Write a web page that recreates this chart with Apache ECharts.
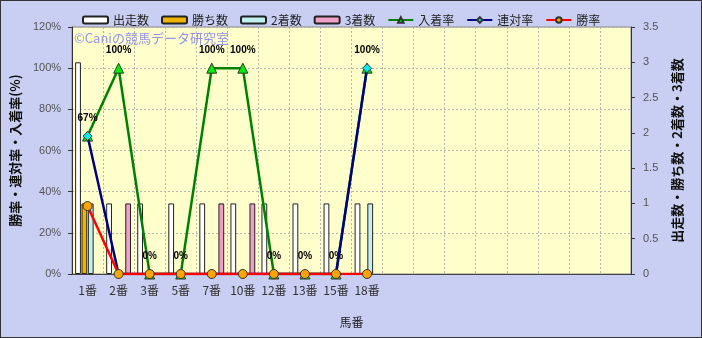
<!DOCTYPE html>
<html><head><meta charset="utf-8">
<script src="https://cdn.jsdelivr.net/npm/echarts@6/dist/echarts.min.js"></script>
<style>
html,body{margin:0;padding:0;}
#c{width:702px;height:338px;box-sizing:border-box;border:1px solid #333;background:#c9cff2;}
</style></head><body>
<div id="c"></div>
<script>
const categories = ['1番','2番','3番','5番','7番','10番','12番','13番','15番','18番','','','','','','','',''];
const runs    = [3,1,1,1,1,1,1,1,1,1];
const wins    = [1,0,0,0,0,0,0,0,0,0];
const seconds = [1,0,0,0,0,0,0,0,0,1];
const thirds  = [0,1,0,0,1,1,0,0,0,0];
const top3Rate = [67,100,0,0,100,100,0,0,0,100];
const top2Rate = [67,0,0,0,0,0,0,0,0,100];
const winRate  = [33,0,0,0,0,0,0,0,0,0];
const leftTicks = [0,20,40,60,80,100,120];
const rightTicks = [0,0.5,1,1.5,2,2.5,3,3.5];

const jp = '"Noto Sans CJK JP", sans-serif';
const nz = a => a.map(v => v === 0 ? null : v);
function bar(name, data, color){
  return {name, type:'bar', yAxisIndex:1, data:nz(data), barGap:'10%', barCategoryGap:'20%',
    itemStyle:{color, borderColor:'#222', borderWidth:1}};
}
function line(name, data, color, symbol, fill, z, label){
  return {name, type:'line', yAxisIndex:0, data, symbol, symbolSize:symbol==='triangle'?10:9, z,
    lineStyle:{color, width:2.5}, itemStyle:{color:fill, borderColor:'#333', borderWidth:1},
    label: label ? {show:true, position:'top', distance:7, formatter:'{c}%', fontSize:10, fontWeight:'bold', color:'#000', fontFamily:'"Liberation Sans", sans-serif'} : {show:false}};
}
const chart = echarts.init(document.getElementById('c'));
chart.setOption({
  animation:false,
  legend:{left:76, top:8, itemWidth:25, itemHeight:7, itemGap:12,
    textStyle:{fontFamily:jp, fontSize:12, color:'#222'},
    data:[
      {name:'出走数', icon:'roundRect'},{name:'勝ち数', icon:'roundRect'},{name:'2着数', icon:'roundRect'},{name:'3着数', icon:'roundRect'},
      '入着率','連対率','勝率']},
  grid:{left:68, right:70, top:26, bottom:63, show:true, backgroundColor:'#ffffcc', borderColor:'#888', borderWidth:1},
  graphic:[{type:'text', left:73, top:31, z:1, style:{text:'©Caniの競馬データ研究室', fill:'#9494ec', font:'13px "Noto Sans CJK JP"'}}],
  xAxis:{type:'category', data:categories, boundaryGap:true,
    name:'馬番', nameLocation:'middle', nameGap:42, nameTextStyle:{fontFamily:jp, fontSize:12, color:'#222'},
    axisLine:{show:true, lineStyle:{color:'#444'}}, axisTick:{show:false},
    axisLabel:{fontFamily:jp, fontSize:12, color:'#333', margin:10, interval:0},
    splitLine:{show:true, lineStyle:{type:[2,2], color:'#b4b4b4'}}},
  yAxis:[
    {type:'value', min:leftTicks[0], max:leftTicks[leftTicks.length-1], interval:20,
      name:'勝率・連対率・入着率(%)', nameLocation:'middle', nameGap:48, nameRotate:90,
      nameTextStyle:{fontFamily:jp, fontSize:13, fontWeight:'bold', color:'#111'},
      axisLine:{show:true, lineStyle:{color:'#333'}}, axisTick:{show:true, length:4, lineStyle:{color:'#333'}},
      axisLabel:{formatter:'{value}%', fontFamily:'"Liberation Sans", sans-serif', fontSize:11, color:'#555', margin:11},
      splitLine:{show:true, lineStyle:{type:[2,2], color:'#b4b4b4'}}},
    {type:'value', min:rightTicks[0], max:rightTicks[rightTicks.length-1], interval:0.5, position:'right',
      name:'出走数・勝ち数・2着数・3着数', nameLocation:'middle', nameGap:40, nameRotate:90,
      nameTextStyle:{fontFamily:jp, fontSize:13, fontWeight:'bold', color:'#111'},
      axisLine:{show:true, lineStyle:{color:'#333'}}, axisTick:{show:true, length:4, lineStyle:{color:'#333'}},
      axisLabel:{fontFamily:'"Liberation Sans", sans-serif', fontSize:11, color:'#555', margin:12},
      splitLine:{show:false}}
  ],
  series:[
    bar('出走数', runs, '#ffffff'),
    bar('勝ち数', wins, '#f0b400'),
    bar('2着数', seconds, '#c4f0f0'),
    bar('3着数', thirds, '#f0a0c8'),
    line('入着率', top3Rate, '#008000', 'triangle', '#00ee00', 3, true),
    line('連対率', top2Rate, '#000080', 'diamond', '#00eeee', 4, false),
    line('勝率', winRate, '#ff0000', 'circle', '#ffa500', 5, false)
  ]
});
</script></body></html>
